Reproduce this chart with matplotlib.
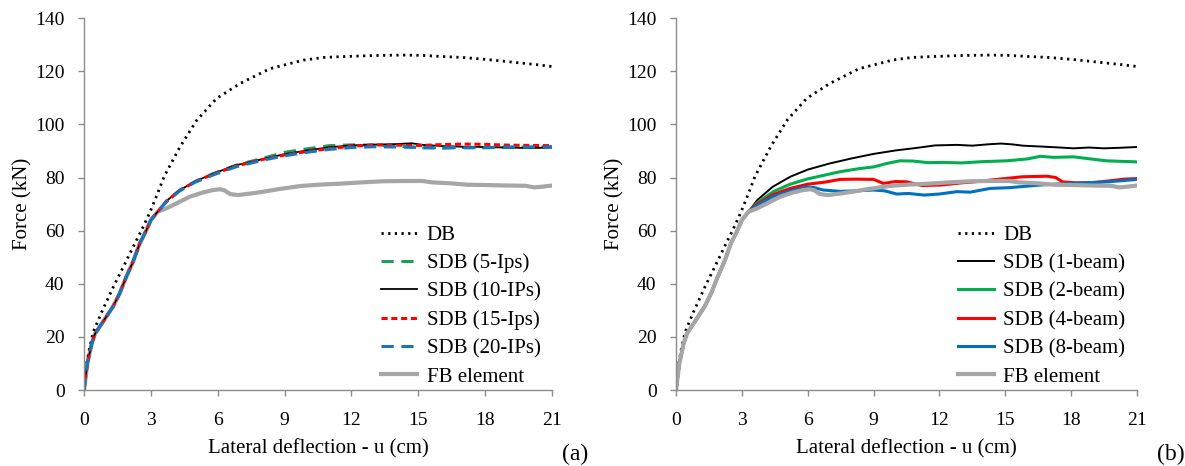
import matplotlib
matplotlib.use("Agg")
import matplotlib.pyplot as plt

plt.rcParams["font.family"] = ["Liberation Serif", "DejaVu Serif"]

# common initial loading branch shared by the SDB / FB runs (u in cm, F in kN)
U_PRE = [0, 0.15, 0.35, 0.5, 0.7, 1.0, 1.3, 1.6, 1.9, 2.2, 2.5, 2.8, 3.0, 3.3]
F_PRE = [0, 10, 17.6, 21.3, 23.8, 27.6, 31.4, 36.4, 42.7, 48.3, 55.2, 60.2, 64.0, 67.1]

# DB (displacement-based element)
U_DB = [0, 0.1, 0.25, 0.42, 0.8, 1.32, 1.8, 2.21, 2.6, 2.96, 3.3, 3.6, 4.31,
        5.06, 5.95, 7.0, 8.34, 9.84, 10.74, 11.5, 12.5, 13.4, 14.3, 15.1, 16.0,
        17.0, 18.0, 18.6, 19.5, 20.3, 21.0]
F_DB = [0, 9, 16, 22, 29.5, 38.9, 47, 54, 60.5, 67, 74, 80.5, 91.6, 101.6,
        109.8, 115.4, 121.0, 124.2, 125.2, 125.5, 125.8, 126, 126.1, 126, 125.6,
        125.2, 124.5, 124, 123.2, 122.5, 121.8]

# FB element
U_FB = [3.7, 4.2, 4.75, 5.3, 5.8, 6.1, 6.3, 6.55, 6.9, 7.5, 8.0, 8.7, 9.7, 10.5,
        11.5, 12.5, 13.4, 14.3, 15.2, 15.6, 16.5, 17.2, 17.9, 19.0, 19.8, 20.2,
        20.6, 21.0]
F_FB = [68.4, 70.5, 72.8, 74.3, 75.3, 75.6, 75.2, 73.8, 73.4, 74.0, 74.6, 75.6,
        76.8, 77.3, 77.7, 78.2, 78.6, 78.7, 78.7, 78.2, 77.8, 77.3, 77.2, 77.0,
        76.9, 76.3, 76.6, 77.0]

# (a) number of integration points
U_IP = [3.7, 4.3, 5.0, 5.8, 6.8, 8.0, 9.0, 10.0, 11.0, 12.0, 13.0, 14.0, 14.7,
        15.2, 16.0, 17.0, 18.0, 19.0, 20.0, 21.0]
F_IP5 = [71.2, 75.3, 78.6, 81.5, 84.6, 87.2, 89.5, 90.8, 92.0, 92.3, 92.2, 91.8,
         91.5, 91.2, 91.0, 91.3, 91.2, 91.4, 91.5, 91.6]
F_IP10 = [71.2, 75.3, 78.6, 81.5, 84.6, 86.9, 88.8, 90.2, 91.4, 92.1, 92.4, 92.6,
          92.9, 92.3, 91.9, 91.6, 91.5, 91.3, 91.1, 91.3]
F_IP15 = [71.0, 75.2, 78.5, 81.3, 84.3, 86.8, 88.5, 89.8, 90.9, 91.8, 92.3, 92.2,
          92.1, 92.1, 92.4, 92.6, 92.5, 92.2, 92.1, 92.0]
F_IP20 = [70.9, 75.0, 78.3, 81.0, 84.0, 86.5, 88.2, 89.5, 90.6, 91.3, 91.6, 91.5,
          91.4, 91.3, 91.4, 91.2, 91.3, 91.5, 91.4, 91.5]

# (b) number of beams
U_B1 = [3.7, 4.4, 5.2, 6.0, 7.0, 8.0, 9.0, 10.0, 11.0, 11.8, 12.8, 13.5, 14.2,
        14.8, 15.3, 15.8, 16.8, 17.5, 18.1, 18.8, 19.5, 20.2, 21.0]
F_B1 = [71.5, 76.5, 80.3, 83.0, 85.3, 87.2, 88.9, 90.2, 91.2, 92.1, 92.3, 92.0,
        92.5, 92.8, 92.5, 92.0, 91.6, 91.3, 91.0, 91.3, 91.0, 91.2, 91.5]
U_B2 = [3.7, 4.43, 5.2, 6.0, 7.47, 8.3, 9.0, 9.6, 10.2, 10.8, 11.5, 12.1, 13.0,
        14.0, 15.07, 16.0, 16.6, 17.2, 18.1, 18.6, 19.6, 20.3, 21.0]
F_B2 = [70.5, 74.7, 77.5, 79.5, 82.2, 83.3, 84.0, 85.3, 86.3, 86.2, 85.6, 85.7,
        85.5, 86.0, 86.3, 87.0, 88.0, 87.6, 87.8, 87.3, 86.3, 86.1, 85.9]
U_B4 = [3.7, 4.4, 5.19, 6.0, 6.8, 7.47, 8.2, 9.0, 9.45, 10.0, 10.5, 11.2, 12.1,
        13.0, 13.6, 14.5, 15.8, 16.9, 17.3, 17.6, 18.2, 18.9, 19.8, 20.4, 21.0]
F_B4 = [70.0, 73.5, 75.9, 77.5, 78.3, 79.3, 79.4, 79.3, 77.8, 78.5, 78.4, 77.0,
        77.2, 78.0, 78.4, 79.2, 80.3, 80.5, 80.0, 78.4, 78.0, 78.0, 78.8, 79.4, 79.6]
U_B8 = [3.7, 4.4, 5.2, 5.95, 6.3, 6.7, 7.5, 8.2, 9.0, 9.5, 10.05, 10.6, 11.3,
        12.0, 12.8, 13.4, 14.3, 15.2, 16.6, 17.5, 18.5, 19.5, 20.3, 21.0]
F_B8 = [69.5, 72.8, 75.0, 76.5, 76.2, 75.3, 74.8, 75.0, 75.3, 75.0, 73.8, 74.0,
        73.4, 73.8, 74.7, 74.5, 75.9, 76.2, 77.2, 77.6, 78.0, 78.3, 78.8, 79.3]

GRAY = "#a6a6a6"
FS_TICK = 14
FS_LAB = 15


def style_axes(ax):
    ax.set_xlim(0, 21)
    ax.set_ylim(0, 140)
    ax.set_xticks(range(0, 22, 3))
    ax.set_yticks(range(0, 141, 20))
    for s in ("top", "right"):
        ax.spines[s].set_visible(False)
    for s in ("left", "bottom"):
        ax.spines[s].set_color("#8c8c8c")
        ax.spines[s].set_linewidth(1.0)
    ax.tick_params(direction="out", length=4, width=1.0, color="#8c8c8c",
                   labelsize=FS_TICK)
    ax.tick_params(axis="x", pad=12)
    ax.tick_params(axis="y", pad=10)
    ax.set_xlabel("Lateral deflection - u (cm)", fontsize=FS_LAB, labelpad=7)
    ax.set_ylabel("Force (kN)", fontsize=FS_LAB, labelpad=2)
    ax.legend(loc="lower right", bbox_to_anchor=(1.0, -0.022), frameon=False,
              fontsize=15, handlelength=1.75, handletextpad=0.45,
              labelspacing=0.42, borderaxespad=0.15)


fig = plt.figure(figsize=(11.85, 4.66), dpi=100)
ax1 = fig.add_axes([0.0709, 0.163, 0.395, 0.798])
ax2 = fig.add_axes([0.5705, 0.163, 0.389, 0.798])

dot = (0, (0.8, 1.6))

# ---- (a) integration points ----
ax1.plot(U_DB, F_DB, color="black", lw=2.0, ls=dot, label="DB")
ax1.plot(U_PRE + U_FB, F_PRE + F_FB, color=GRAY, lw=3.0, label="_fb", zorder=1)
ax1.plot(U_PRE + U_IP, F_PRE + F_IP5, color="#1f9e5a", lw=2.2,
         ls=(0, (4, 2.5)), label="SDB (5-Ips)")
ax1.plot(U_PRE + U_IP, F_PRE + F_IP10, color="black", lw=1.3,
         label="SDB (10-IPs)")
ax1.plot(U_PRE + U_IP, F_PRE + F_IP15, color="#ff0000", lw=2.2,
         ls=(0, (2, 1.2)), label="SDB (15-Ips)")
ax1.plot(U_PRE + U_IP, F_PRE + F_IP20, color="#1b75bb", lw=2.2,
         ls=(0, (4, 2.5)), label="SDB (20-IPs)")
ax1.plot([], [], color=GRAY, lw=3.0, label="FB element")
style_axes(ax1)

# ---- (b) number of beams ----
ax2.plot(U_DB, F_DB, color="black", lw=2.0, ls=dot, label="DB")
ax2.plot(U_PRE + U_B1, F_PRE + F_B1, color="black", lw=1.4, label="SDB (1-beam)")
ax2.plot(U_PRE + U_B2, F_PRE + F_B2, color="#00b050", lw=2.2, label="SDB (2-beam)")
ax2.plot(U_PRE + U_B4, F_PRE + F_B4, color="#ff0000", lw=2.2, label="SDB (4-beam)")
ax2.plot(U_PRE + U_B8, F_PRE + F_B8, color="#0070c0", lw=2.2, label="SDB (8-beam)")
ax2.plot(U_PRE + U_FB, F_PRE + F_FB, color=GRAY, lw=3.0, label="FB element")
style_axes(ax2)

fig.text(0.474, 0.012, "(a)", fontsize=17)
fig.text(0.976, 0.012, "(b)", fontsize=17)

fig.savefig("out.png", dpi=100, facecolor="white")
